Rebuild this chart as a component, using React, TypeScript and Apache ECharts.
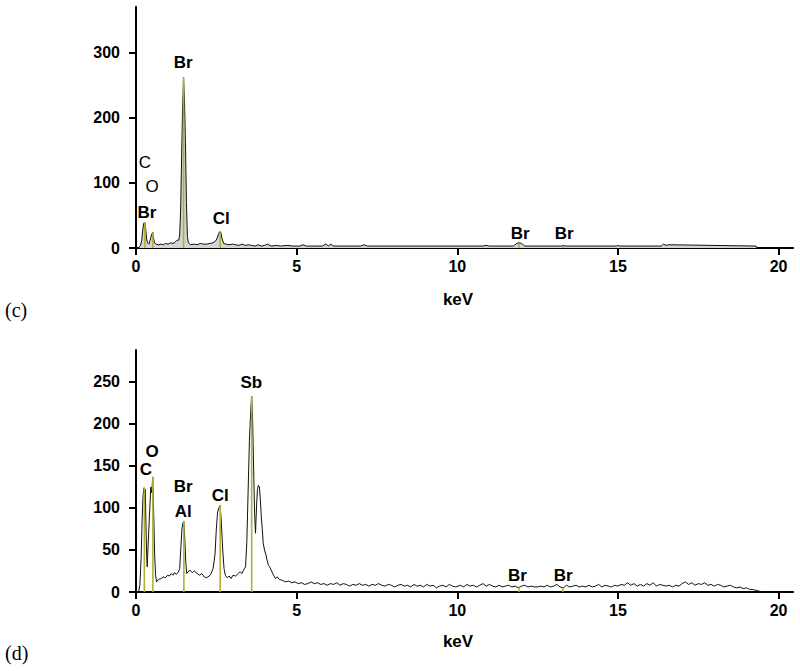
import React, { useEffect, useRef } from "react";
import * as echarts from "echarts";

// ---------- data ----------
const xTicks = [0, 5, 10, 15, 20];
const yTicksTop = [0, 100, 200, 300];
const yTicksBot = [0, 50, 100, 150, 200, 250];

// (c) spectrum
const topKeV = [
  0, 0.08, 0.14, 0.18, 0.21, 0.24, 0.27, 0.3, 0.33, 0.36, 0.4, 0.44, 0.48, 0.52, 0.55, 0.58, 0.62, 0.7, 0.78, 0.85,
  0.92, 1.0, 1.08, 1.15, 1.22, 1.28, 1.33, 1.36, 1.39, 1.42, 1.45, 1.48, 1.51, 1.54, 1.57, 1.6, 1.63, 1.7, 1.8, 1.9,
  2.0, 2.1, 2.2, 2.3, 2.4, 2.5, 2.56, 2.6, 2.64, 2.68, 2.73, 2.8, 2.9, 3.0, 3.1, 3.2, 3.3, 3.4, 3.5, 3.6,
  3.7, 3.8, 3.9, 4.0, 4.1, 4.2, 4.4, 4.5, 4.7, 4.9, 5.1, 5.2, 5.3, 5.8, 5.9, 6.0, 6.05, 6.15, 7.0, 7.1,
  7.2, 10.8, 10.9, 11.0, 11.75, 11.85, 11.92, 12.0, 12.1, 13.25, 13.3, 13.35, 14.95, 15.0, 15.05, 16.35, 16.42, 16.5, 16.58, 19.3,
  19.33,
];
const topCounts = [
  0, 0, 4, 12, 28, 38, 40, 30, 14, 8, 6, 12, 20, 24, 14, 8, 6, 5, 6, 5,
  7, 6, 8, 7, 9, 12, 12, 20, 60, 140, 215, 262, 225, 160, 70, 18, 8, 5, 6, 5,
  7, 6, 6, 7, 8, 12, 20, 25, 24, 14, 7, 6, 5, 6, 5, 4, 6, 4, 5, 4,
  3, 5, 3, 4, 6, 3, 4, 3, 4, 3, 3, 5, 3, 3, 6, 3, 6, 3, 3, 5,
  3, 3, 4, 3, 3, 7, 8, 7, 3, 3, 4, 3, 3, 4, 3, 3, 6, 4, 5, 3,
  0,
];

// (d) spectrum
const botKeV = [
  0, 0.08, 0.12, 0.16, 0.19, 0.22, 0.25, 0.27, 0.29, 0.31, 0.33, 0.35, 0.37, 0.4, 0.43, 0.46, 0.49, 0.52, 0.55, 0.58,
  0.61, 0.64, 0.7, 0.78, 0.85, 0.92, 0.98, 1.04, 1.1, 1.15, 1.2, 1.26, 1.32, 1.36, 1.4, 1.43, 1.46, 1.49, 1.52, 1.55,
  1.58, 1.62, 1.68, 1.75, 1.82, 1.9, 1.98, 2.05, 2.12, 2.2, 2.28, 2.34, 2.4, 2.46, 2.5, 2.54, 2.58, 2.62, 2.66, 2.7,
  2.74, 2.78, 2.84, 2.9, 2.96, 3.02, 3.1, 3.18, 3.24, 3.3, 3.36, 3.41, 3.45, 3.49, 3.53, 3.57, 3.6, 3.63, 3.66, 3.69,
  3.72, 3.75, 3.78, 3.81, 3.84, 3.87, 3.9, 3.93, 3.96, 4.0, 4.04, 4.08, 4.12, 4.16, 4.22, 4.28, 4.34, 4.4, 4.46, 4.55,
  4.65, 4.75, 4.85, 4.95, 5.05, 5.15, 5.25, 5.35, 5.45, 5.55, 5.65, 5.75, 5.85, 5.95, 6.05, 6.15, 6.25, 6.35, 6.45, 6.55,
  6.65, 6.75, 6.85, 6.95, 7.05, 7.15, 7.25, 7.35, 7.45, 7.55, 7.65, 7.75, 7.85, 7.95, 8.05, 8.15, 8.25, 8.35, 8.45, 8.55,
  8.65, 8.75, 8.85, 8.95, 9.05, 9.15, 9.25, 9.35, 9.45, 9.55, 9.65, 9.75, 9.85, 9.95, 10.1, 10.2, 10.3, 10.4, 10.5, 10.6,
  10.7, 10.8, 10.9, 11.0, 11.1, 11.2, 11.3, 11.4, 11.5, 11.6, 11.7, 11.8, 11.9, 12.0, 12.1, 12.2, 12.3, 12.4, 12.5, 12.6,
  12.7, 12.8, 12.9, 13.0, 13.1, 13.2, 13.3, 13.4, 13.5, 13.6, 13.7, 13.8, 13.9, 14.0, 14.1, 14.2, 14.3, 14.4, 14.5, 14.6,
  14.7, 14.8, 14.9, 15.0, 15.1, 15.2, 15.3, 15.4, 15.5, 15.6, 15.7, 15.8, 15.9, 16.0, 16.1, 16.2, 16.3, 16.4, 16.5, 16.6,
  16.7, 16.8, 16.9, 17.0, 17.1, 17.2, 17.3, 17.4, 17.5, 17.6, 17.7, 17.8, 17.9, 18.0, 18.1, 18.2, 18.3, 18.4, 18.5, 18.6,
  18.7, 18.8, 18.9, 19.0, 19.1, 19.2, 19.3, 19.4, 19.5,
];
const botCounts = [
  0, 0, 8, 40, 85, 115, 124, 118, 122, 80, 45, 30, 50, 75, 100, 125, 118, 137, 95, 45,
  20, 12, 15, 16, 18, 17, 20, 19, 22, 20, 23, 21, 24, 28, 55, 75, 82, 84, 62, 35,
  22, 24, 26, 23, 25, 22, 20, 22, 18, 17, 19, 22, 28, 45, 75, 95, 100, 103, 80, 50,
  28, 20, 17, 19, 16, 20, 19, 22, 24, 22, 27, 30, 60, 120, 180, 215, 233, 205, 150, 95,
  70, 100, 122, 127, 125, 110, 90, 75, 58, 50, 45, 38, 32, 30, 25, 20, 16, 18, 15, 14,
  12, 13, 11, 12, 10, 11, 9, 10, 12, 10, 11, 9, 10, 8, 10, 9, 11, 8, 10, 9,
  7, 9, 8, 10, 8, 9, 7, 9, 8, 10, 8, 7, 9, 8, 6, 8, 9, 7, 8, 6,
  9, 7, 8, 6, 9, 7, 8, 5, 7, 8, 6, 9, 7, 6, 8, 6, 9, 7, 8, 6,
  8, 10, 7, 9, 7, 6, 8, 6, 7, 8, 6, 7, 5, 7, 8, 6, 7, 6, 6, 7,
  6, 8, 6, 7, 9, 6, 5, 8, 6, 7, 8, 6, 7, 6, 8, 6, 7, 9, 6, 8,
  7, 6, 8, 7, 9, 8, 11, 8, 10, 7, 9, 7, 10, 8, 11, 7, 9, 8, 7, 8,
  6, 8, 7, 10, 12, 9, 11, 8, 10, 9, 11, 8, 9, 7, 9, 8, 6, 7, 8, 6,
  5, 6, 4, 5, 3, 3, 2, 1, 0,
];

// element marker lines
const topLineKeV = [0.277, 0.525, 1.48, 2.62, 11.92, 13.29];
const topLineHeight = [40, 24, 262, 24, 6, 3];
const botLineKeV = [0.26, 0.525, 1.49, 2.62, 3.6, 11.92, 13.29];
const botLineHeight = [124, 137, 84, 103, 233, 5, 5];

// element labels
const topLabelNames = ["Br", "C", "O", "Br", "Cl", "Br", "Br"];
const topLabelKeV = [1.47, 0.28, 0.5, 0.34, 2.65, 11.96, 13.33];
const topLabelCounts = [285, 132, 95, 55, 45, 22, 22];
const topLabelBold = [true, false, false, true, true, true, true];

const botLabelNames = ["Sb", "O", "C", "Br", "Al", "Cl", "Br", "Br"];
const botLabelKeV = [3.59, 0.5, 0.31, 1.47, 1.47, 2.62, 11.87, 13.3];
const botLabelCounts = [249, 167, 146, 126, 96, 115, 20, 20];
const botLabelBold = [true, true, true, true, true, true, true, true];

// ---------- component ----------
const FONT = "Liberation Sans, Arial, sans-serif";
const MARK = "#b4b02c";

function axisPair(gridIndex: number, yMax: number, yInt: number, yTicks: number[]) {
  const common = {
    gridIndex,
    axisLine: { show: true, onZero: false, lineStyle: { color: "#000", width: 2 } },
    axisTick: { show: true, inside: false, length: 7, lineStyle: { color: "#000", width: 2 } },
    splitLine: { show: false },
  };
  const x = {
    ...common,
    type: "value",
    min: 0,
    max: 20.45,
    interval: 5,
    axisTick: { ...common.axisTick, customValues: xTicks },
    axisLabel: {
      customValues: xTicks,
      margin: 10,
      color: "#000",
      fontFamily: FONT,
      fontWeight: "bold",
      fontSize: 16,
    },
  };
  const y = {
    ...common,
    type: "value",
    min: 0,
    max: yMax,
    interval: yInt,
    axisTick: { ...common.axisTick, customValues: yTicks },
    axisLabel: {
      customValues: yTicks,
      margin: 16,
      color: "#000",
      fontFamily: FONT,
      fontWeight: "bold",
      fontSize: 16,
    },
  };
  return { x, y };
}

function markerSeries(idx: number, keV: number[], h: number[]) {
  return keV.map((k, i) => ({
    type: "line",
    xAxisIndex: idx,
    yAxisIndex: idx,
    data: [
      [k, 0],
      [k, h[i]],
    ],
    symbol: "none",
    lineStyle: { color: MARK, width: 1.6 },
    z: 5,
    silent: true,
  }));
}

function labelSeries(idx: number, names: string[], keV: number[], c: number[], bold: boolean[]) {
  return {
    type: "scatter",
    xAxisIndex: idx,
    yAxisIndex: idx,
    symbolSize: 0,
    itemStyle: { color: "#fff", opacity: 1 },
    z: 10,
    silent: true,
    data: names.map((n, i) => ({
      name: n,
      value: [keV[i], c[i]],
      label: {
        show: true,
        position: "inside",
        formatter: "{b}",
        color: "#000",
        opacity: 1,
        textBorderWidth: 0,
        fontFamily: FONT,
        fontSize: 17,
        fontWeight: bold[i] ? "bold" : "normal",
      },
    })),
  };
}

export default function App() {
  const ref = useRef<HTMLDivElement>(null);
  useEffect(() => {
    if (!ref.current) return;
    const chart = echarts.init(ref.current, null, { renderer: "svg" });
    const a0 = axisPair(0, 371, 100, yTicksTop);
    const a1 = axisPair(1, 288, 50, yTicksBot);
    const option: any = {
      animation: false,
      backgroundColor: "#fff",
      grid: [
        { left: 136, top: 6.7, width: 657, height: 241.3 },
        { left: 136, top: 350, width: 657, height: 242 },
      ],
      xAxis: [a0.x, a1.x],
      yAxis: [a0.y, a1.y],
      graphic: [
        { type: "text", left: 5, top: 300, style: { text: "(c)", font: "20px 'Liberation Serif', serif", fill: "#000" } },
        { type: "text", left: 5, top: 643, style: { text: "(d)", font: "20px 'Liberation Serif', serif", fill: "#000" } },
        { type: "text", x: 458, y: 299, style: { text: "keV", font: "bold 17px " + FONT, fill: "#000", align: "center", verticalAlign: "middle" } },
        { type: "text", x: 458, y: 641, style: { text: "keV", font: "bold 17px " + FONT, fill: "#000", align: "center", verticalAlign: "middle" } },
      ],
      series: [
        {
          type: "line",
          xAxisIndex: 0,
          yAxisIndex: 0,
          data: topKeV.map((k, i) => [k, topCounts[i]]),
          symbol: "none",
          lineStyle: { color: "#111", width: 1 },
          areaStyle: { color: "#d4d4d4", opacity: 1 },
          z: 3,
          silent: true,
        },
        {
          type: "line",
          xAxisIndex: 1,
          yAxisIndex: 1,
          data: botKeV.map((k, i) => [k, botCounts[i]]),
          symbol: "none",
          lineStyle: { color: "#111", width: 1 },
          z: 3,
          silent: true,
        },
        ...markerSeries(0, topLineKeV, topLineHeight),
        ...markerSeries(1, botLineKeV, botLineHeight),
        labelSeries(0, topLabelNames, topLabelKeV, topLabelCounts, topLabelBold),
        labelSeries(1, botLabelNames, botLabelKeV, botLabelCounts, botLabelBold),
      ],
    };
    chart.setOption(option);
    return () => chart.dispose();
  }, []);
  return (
    <div
      ref={ref}
      style={{ position: "absolute", left: 0, top: 0, width: 800, height: 671 }}
    />
  );
}
